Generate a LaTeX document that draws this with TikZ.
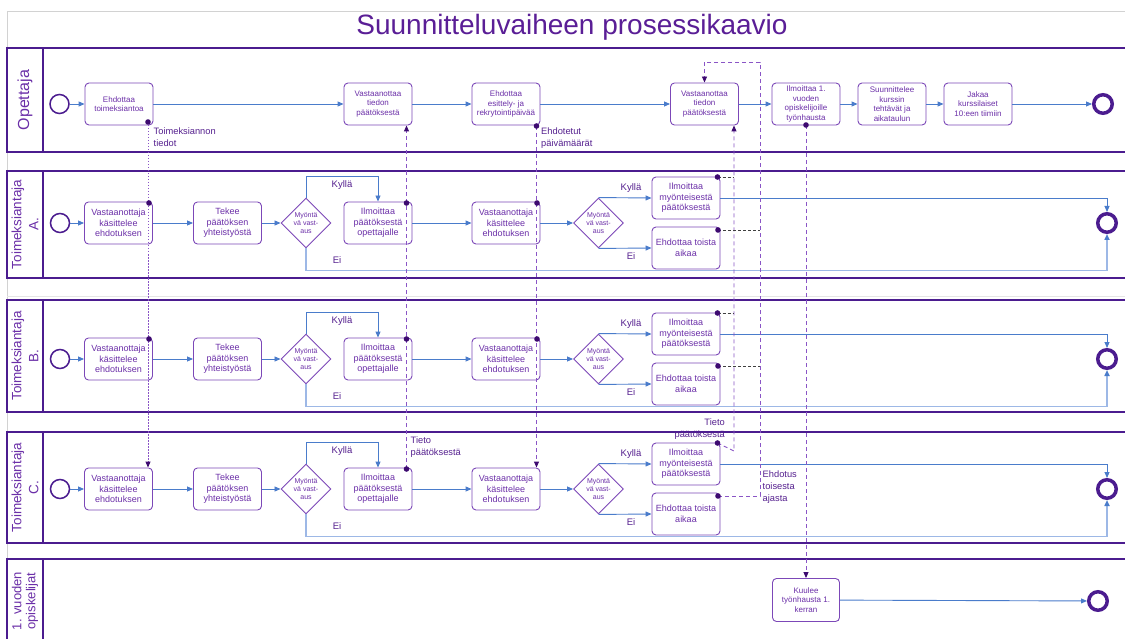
\documentclass[tikz,border=0pt]{standalone}
\usepackage{fontspec}
\setmainfont{Liberation Sans}
\usetikzlibrary{shapes.geometric,arrows.meta,calc}
\definecolor{lanec}{HTML}{4B1C8F}
\definecolor{boxc}{HTML}{7C48B8}
\definecolor{txtc}{HTML}{6B2FA8}
\definecolor{flowc}{HTML}{4A7CCB}
\definecolor{eic}{HTML}{9DB8E6}
\definecolor{msgc}{HTML}{8A55C6}
\definecolor{dotc}{HTML}{3D0A70}
\definecolor{titc}{HTML}{5A1E96}
\definecolor{lblc}{HTML}{55208F}
\begin{document}
\begin{tikzpicture}[x=1pt,y=-1pt,
  lane/.style={draw=lanec,line width=1.8pt},
  task/.style={draw=boxc,line width=0.9pt,rounded corners=4pt,minimum width=68pt,minimum height=42pt,align=center,text=txtc,inner sep=1pt,font=\fontsize{9}{10.5}\selectfont},
  otask/.style={task,font=\fontsize{8}{9.5}\selectfont},
  gate/.style={draw=boxc,line width=0.9pt,diamond,aspect=1,minimum width=50pt,minimum height=50pt,inner sep=0pt,align=center,text=txtc,font=\fontsize{7}{8.3}\selectfont},
  startev/.style={circle,draw=lanec,line width=1.5pt,minimum size=19pt,inner sep=0pt},
  endev/.style={circle,draw=lanec,line width=3.5pt,minimum size=18.5pt,inner sep=0pt},
  flow/.style={draw=flowc,line width=0.9pt,-{Triangle[length=6pt,width=5pt]}},
  eiflow/.style={draw=eic,line width=1.5pt,-{Triangle[length=6pt,width=5pt,color=flowc]}},
  msg/.style={draw=msgc,line width=0.9pt,dash pattern=on 4pt off 3pt,-{Triangle[length=6pt,width=5pt,color=dotc]}},
  msgdot/.style={draw=msgc,line width=0.9pt,dash pattern=on 1.5pt off 1.5pt,-{Triangle[length=6pt,width=5pt,color=dotc]}},
  blk/.style={draw=black!75,line width=0.8pt,dash pattern=on 3pt off 2pt},
  lbl/.style={text=lblc,font=\fontsize{9.3}{12}\selectfont,align=left,inner sep=0pt},
  yes/.style={text=lblc,font=\fontsize{9.5}{11}\selectfont,inner sep=0pt},
  laneh/.style={text=txtc,align=center,inner sep=0pt}
]
\useasboundingbox (0,0) rectangle (1125,639);
\fill[white] (0,0) rectangle (1125,639);
% outer frame and title
\draw[gray!35,line width=1pt] (7,660) -- (7,12) -- (1140,12);
\draw[black!10,line width=1pt] (7,296) -- (1140,296);
\node[text=titc,font=\fontsize{28}{32}\selectfont,inner sep=0pt] (title) at (572,27) {Suunnitteluvaiheen prosessikaavio};
% Opettaja lane
\draw[lane] (7,48) rectangle (1140,152);
\draw[lane] (43,48) -- (43,152);
\node[laneh,rotate=90,font=\fontsize{16}{18}\selectfont] (hO) at (25,100) {Opettaja};
\node[startev] (sO) at (59.5,104) {};
\node[otask] (o1) at (119,104) {Ehdottaa\\toimeksiantoa};
\node[otask] (o2) at (378,104) {Vastaanottaa\\tiedon\\päätöksestä};
\node[otask] (o3) at (506,104) {Ehdottaa\\esittely- ja\\rekrytointipäivää};
\node[otask] (o4) at (704.5,104) {Vastaanottaa\\tiedon\\päätöksestä};
\node[otask] (o5) at (806,104) {Ilmoittaa 1.\\vuoden\\opiskelijoille\\työnhausta};
\node[otask] (o6) at (892,104) {Suunnittelee\\kurssin\\tehtävät ja\\aikataulun};
\node[otask] (o7) at (978,104) {Jakaa\\kurssilaiset\\10:een tiimiin};
\node[endev] (zO) at (1103,104) {};
\draw[flow] (sO) -- (o1);
\draw[flow] (o1) -- (o2);
\draw[flow] (o2) -- (o3);
\draw[flow] (o3) -- (o4);
\draw[flow] (o4) -- (o5);
\draw[flow] (o5) -- (o6);
\draw[flow] (o6) -- (o7);
\draw[flow] (o7) -- (zO);
% Toimeksiantaja lanes
\foreach \lnm/\mya/\lta/\ltb in {A/223/171/278,B/359/300/412,C/489/432/543}{
  \draw[lane] (7,\lta) rectangle (1140,\ltb);
  \draw[lane] (43,\lta) -- (43,\ltb);
  \node[laneh,rotate=90,font=\fontsize{13.5}{17}\selectfont] (h\lnm) at (25,{(\lta+\ltb)/2}) {Toimeksiantaja\\\lnm.};
  \node[startev] (s\lnm) at (60,\mya) {};
  \node[task] (r\lnm) at (118.5,\mya) {Vastaanottaja\\käsittelee\\ehdotuksen};
  \node[task] (t\lnm) at (227.5,\mya) {Tekee\\päätöksen\\yhteistyöstä};
  \node[gate] (g\lnm) at (306,\mya) {Myöntä\\vä vast-\\aus};
  \node[task] (i\lnm) at (378,\mya) {Ilmoittaa\\päätöksestä\\opettajalle};
  \node[task] (v\lnm) at (506,\mya) {Vastaanottaja\\käsittelee\\ehdotuksen};
  \node[gate] (k\lnm) at (598.5,\mya) {Myöntä\\vä vast-\\aus};
  \node[task] (p\lnm) at (686,\mya-25) {Ilmoittaa\\myönteisestä\\päätöksestä};
  \node[task] (e\lnm) at (686,\mya+25) {Ehdottaa toista\\aikaa};
  \node[endev] (z\lnm) at (1107,\mya) {};
  \draw[flow] (s\lnm) -- (r\lnm);
  \draw[flow] (r\lnm) -- (t\lnm);
  \draw[flow] (t\lnm) -- (g\lnm);
  \draw[flow] (g\lnm.north) -- ++(0,-21) -| (i\lnm.north);
  \draw[eiflow] (g\lnm.south) -- ++(0,22) -| (z\lnm.south);
  \draw[flow] (i\lnm) -- (v\lnm);
  \draw[flow] (v\lnm) -- (k\lnm);
  \draw[flow] (k\lnm.north) -- (p\lnm.west);
  \draw[flow] (k\lnm.south) -- (e\lnm.west);
  \draw[flow] (p\lnm.east) -| (z\lnm.north);
  \node[yes] (ky\lnm) at (342,\mya-38) {Kyllä};
  \node[yes] (ei\lnm) at (337,\mya+37) {Ei};
  \node[yes] (kz\lnm) at (631,\mya-35) {Kyllä};
  \node[yes] (ez\lnm) at (631,\mya+33) {Ei};
  \coordinate (rd\lnm) at (149,\mya-20);
  \coordinate (id\lnm) at (406.5,\mya-20);
  \coordinate (vd\lnm) at (537,\mya-20);
  \coordinate (pd\lnm) at (717.5,\mya-46);
  \coordinate (ed\lnm) at (718,\mya+7);
}
% Bottom lane
\draw[lane] (7,559) rectangle (1140,660);
\draw[lane] (43,559) -- (43,660);
\node[laneh,rotate=90,font=\fontsize{13}{14}\selectfont] (hD) at (25,601) {1. vuoden\\opiskelijat};
\node[otask,minimum width=67pt,minimum height=43pt] (ku) at (806,600) {Kuulee\\työnhausta 1.\\kerran};
\node[endev] (zD) at (1098,601) {};
\draw[flow] (ku) -- (zD);
% message flows
\coordinate (o1d) at (148,122);
\coordinate (o3d) at (536.5,126);
\coordinate (o5d) at (806,125);
\coordinate (m4) at (734,451);
\coordinate (c1) at (760,62);
\draw[msgdot] (o1d) -- (o1d |- rC.north);
\draw[msg] (idC) -- (idC |- o2.south);
\draw[msg] (o3d) -- (o3d |- vC.north);
\draw[msg] (pdC) -- (m4) -- (m4 |- o4.south);
\draw[msg] (edC) -| (c1) -| (o4.north);
\draw[msg] (o5d) -- (o5d |- ku.north);
\draw[blk] (pdA) -- (pdA -| m4);
\draw[blk] (pdB) -- (pdB -| m4);
\draw[blk] (edA) -- (edA -| c1);
\draw[blk] (edB) -- (edB -| c1);
\foreach \q in {o1d,o3d,o5d,rdA,rdB,idA,idB,idC,vdA,vdB,pdA,pdB,pdC,edA,edB,edC}{
  \fill[dotc] (\q) circle (2.8pt);
}
% message labels
\node[lbl,anchor=north west] (l1) at (153.5,127.5) {Toimeksiannon\\tiedot};
\node[lbl,anchor=north west] (l2) at (541,127.5) {Ehdotetut\\päivämäärät};
\node[lbl,anchor=north west] (l3) at (410.5,436.5) {Tieto\\päätöksestä};
\node[lbl,anchor=north east,align=right] (l4) at (725,419) {Tieto\\päätöksestä};
\node[lbl,anchor=north west] (l5) at (762.5,471) {Ehdotus\\toisesta\\ajasta};
\end{tikzpicture}
\end{document}
